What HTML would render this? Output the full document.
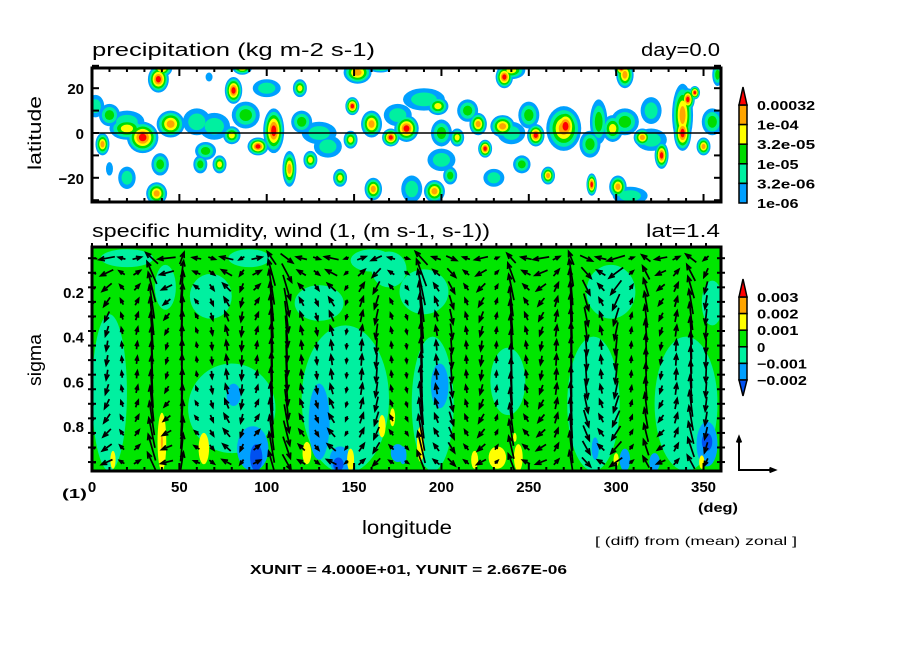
<!DOCTYPE html>
<html><head><meta charset="utf-8"><style>
html,body{margin:0;padding:0;background:#fff;}
svg{display:block;font-family:"Liberation Sans",sans-serif;}
</style></head><body>
<svg id="chart" width="904" height="654" viewBox="0 0 904 654" xmlns="http://www.w3.org/2000/svg">
<defs>
<clipPath id="clipTop"><rect x="92" y="68" width="629" height="134"/></clipPath>
<clipPath id="clipBot"><rect x="92" y="247" width="629" height="224"/></clipPath>
</defs>
<rect width="904" height="654" fill="#fff"/>
<text x="92" y="56" font-size="18" textLength="283" lengthAdjust="spacingAndGlyphs">precipitation (kg m-2 s-1)</text>
<text x="641" y="56" font-size="18" textLength="79" lengthAdjust="spacingAndGlyphs">day=0.0</text>
<text x="92" y="237" font-size="18" textLength="398" lengthAdjust="spacingAndGlyphs">specific humidity, wind (1, (m s-1, s-1))</text>
<text x="646" y="237" font-size="18" textLength="74" lengthAdjust="spacingAndGlyphs">lat=1.4</text>
<text x="0" y="0" font-size="18" text-anchor="middle" textLength="74" lengthAdjust="spacingAndGlyphs" transform="translate(41,133) rotate(-90)">latitude</text>
<text x="0" y="0" font-size="18" text-anchor="middle" textLength="52" lengthAdjust="spacingAndGlyphs" transform="translate(41,360) rotate(-90)">sigma</text>
<text x="362" y="534" font-size="19" textLength="90" lengthAdjust="spacingAndGlyphs">longitude</text>
<text x="62" y="498" font-size="13" font-weight="bold" textLength="25" lengthAdjust="spacingAndGlyphs">(1)</text>
<text x="698" y="512" font-size="13" font-weight="bold" textLength="40" lengthAdjust="spacingAndGlyphs">(deg)</text>
<text x="595" y="545" font-size="12" textLength="202" lengthAdjust="spacingAndGlyphs">[ (diff) from (mean) zonal ]</text>
<text x="250" y="574" font-size="13" font-weight="bold" textLength="317" lengthAdjust="spacingAndGlyphs">XUNIT = 4.000E+01, YUNIT = 2.667E-06</text>
<g id="topField" clip-path="url(#clipTop)"></g>
<g id="botField" clip-path="url(#clipBot)"></g>
<g id="arrows" clip-path="url(#clipBot)"></g>
<g id="axes"></g>
</svg>
<script>
// ---- precipitation blobs: lon, lat, peak level, radius lon (deg), radius lat (deg)
const precipLon  = [38,40,81,86,119,29,45,20,6,104,95,80,88,113,125,149,160,148,171,180,152,165,142,161,37,73,62,39,10,2,67,20,70,130,236,240,198,190,221,235,225,209,254,271,270,290,298,315,326,338,341,345,338,350,303,305,358,261,286,301,196,205,246,308,183,240,320,10,60,65,120,135,175,200,215,250,285,305,320,355,20,100,200,230];
const precipLat  = [24,29,19,30,20,-2,4,2,-5,1,-6,-1,8,-16,-12,12,4,-3,-2,2,27,30,-20,-25,-27,-14,-14,-14,-16,12,25,5,3,0,25,28,12,15,4,3,-7,-2,-1,3,2,5,2,-2,-10,0,15,18,8,-6,29,26,26,-19,-23,-24,-26,-19,-14,-28,-25,0,-3,8,5,-8,5,-6,8,0,10,8,-5,5,10,5,-20,20,-12,-20];
const precipPeak = [6,5,6,6,4,6,5,4,5,6,6,4,3,5,4,6,5,4,6,6,5,4,4,5,5,4,3,3,1,2,1,2,2,2,6,4,4,2,5,5,6,4,6,6,5,3,4,5,6,6,6,6,5,5,6,5,3,5,6,5,5,3,3,2,2,2,2,3,2,3,3,2,2,3,3,3,3,3,2,3,2,2,2,2];
const precipRx   = [6,6,5,6,4,9,8,10,4,6,6,5,8,4,4,4,6,4,5,7,8,8,4,5,6,4,4,5,2,5,2,10,9,10,5,8,6,12,5,7,4,4,5,7,10,5,6,5,4,5,4,3,6,4,4,5,3,4,3,5,6,4,5,10,6,8,9,6,8,6,6,8,8,6,6,6,6,8,6,6,5,8,8,6];
const precipRy   = [6,4,6,4,4,7,6,5,5,10,4,4,6,8,4,4,6,4,4,6,5,3,4,5,5,4,4,5,3,5,2,5,6,5,5,4,4,5,5,5,4,4,5,8,10,10,6,4,6,8,5,3,14,4,4,6,5,4,5,5,5,4,4,4,6,5,5,5,6,4,5,5,5,6,5,6,6,6,6,6,5,4,5,4];
const precipColors = ["#00a0ff","#00f0a0","#00dc00","#ffff00","#ffa500","#ff0000"];
const precipTicks = ["1e-06","3.2e-06","1e-05","3.2e-05","1e-04","0.00032"];

// ---- specific humidity anomaly blobs: lon, sigma, class, rx (deg), ry (sigma)
const qLon   = [10,42,68,80,145,130,20,90,160,170,195,238,287,340,190,297,355,81,92,130,142,175,199,352,305,288,178,322,94,141,352,40,64,12,123,148,166,172,188,219,232,244,300,349,242,40];
const qSig   = [0.65,0.18,0.22,0.72,0.68,0.25,0.05,0.05,0.06,0.1,0.7,0.6,0.7,0.7,0.2,0.2,0.25,0.66,0.9,0.78,0.95,0.92,0.62,0.88,0.95,0.9,0.93,0.96,0.94,0.97,0.87,0.87,0.9,0.95,0.92,0.95,0.8,0.76,0.88,0.95,0.94,0.94,0.95,0.96,0.85,0.87];
const qClass = ["a","a","a","a","a","a","a","a","a","a","a","a","a","a","a","a","a","lb","lb","lb","lb","lb","lb","lb","lb","lb","lb","lb","db","db","db","y","y","y","y","y","y","y","y","y","y","y","y","y","y","o"];
const qRx    = [10,6,12,25,25,14,15,12,12,10,12,10,15,18,14,14,6,4,9,6,6,4,5,6,3,2,2,3,3.5,3,3,2.5,3,1.5,2.5,2,2,1.5,2,2,5,2.5,1.5,1.5,1,0.6];
const qRy    = [0.35,0.1,0.1,0.2,0.33,0.08,0.04,0.04,0.05,0.08,0.3,0.15,0.3,0.3,0.1,0.12,0.1,0.05,0.1,0.17,0.06,0.04,0.1,0.1,0.05,0.05,0.04,0.04,0.06,0.03,0.04,0.13,0.07,0.04,0.05,0.05,0.05,0.04,0.08,0.04,0.05,0.06,0.03,0.03,0.02,0.03];
const qColors = {a:"#00f0a0", lb:"#00a0ff", db:"#0050f0", y:"#ffff00", o:"#ffa500"};
const qTicks = ["0.003","0.002","0.001","0","\u22120.001","\u22120.002"];

// ---- wind: per-column vertical wind (1e-6 s-1) and zonal wind (m/s), with vertical profiles
const windColW = [0.3,-0.8,0.5,0.6,3.0,-0.5,3.2,0.4,-0.6,0.8,-0.8,0.6,3.5,-2.5,0.7,-0.6,0.8,-0.4,0.9,-1.2,0.5,-0.4,3.6,0.8,-1.2,0.6,-0.8,0.5,2.6,0.6,-0.7,0.9,3.6,-1.5,0.7,-1.4,0.5,1.8,-0.6,0.9,2.2,-1.2];
const windColU = [-12,-18,-8,10,-14,-20,5,-10,8,-15,-6,12,-10,14,-12,8,-16,-5,10,-12,-8,6,-14,-10,12,-8,-15,5,-10,-12,-18,8,-6,14,-12,-20,6,-10,-14,8,-12,-6];
const windProfW = [0.3,0.6,0.8,0.9,1,1,1,1,1,1,0.95,0.9,0.8,0.7,0.5];
const windProfU = [1,0.8,0.6,0.4,0.3,0.2,0.1,0.1,0.1,0.2,0.3,0.4,0.5,0.6,0.7];
const windSigma = [0.05,0.115,0.18,0.245,0.31,0.375,0.44,0.505,0.57,0.635,0.70,0.765,0.83,0.895,0.96];

const xTickVals = [0,50,100,150,200,250,300,350];
const latTickVals = [20,0,-20];
const sigTickVals = [0.2,0.4,0.6,0.8];

const NS="http://www.w3.org/2000/svg";
function X(lon){return 92+lon*629/360;}
function YLat(lat){return 133-lat*2.24;}
function YSig(s){return 247+s*224;}
function mk(tag,attrs,parent){const e=document.createElementNS(NS,tag);for(const k in attrs)e.setAttribute(k,attrs[k]);parent.appendChild(e);return e;}

// top field
const topG=document.getElementById('topField');
for(let k=1;k<=6;k++){
  for(let i=0;i<precipLon.length;i++){
    const p=precipPeak[i]; if(p<k)continue;
    const r=1-(k-1)/(p+0.6);
    const e=mk('ellipse',{cx:X(precipLon[i]),cy:YLat(precipLat[i]),rx:precipRx[i]*1.747*r,ry:precipRy[i]*2.24*r,fill:precipColors[k-1]},topG);
    
    
  }
}
// bottom field
const botG=document.getElementById('botField');
const bg=mk('rect',{x:92,y:247,width:629,height:224,fill:"#00e600"},botG);


["a","lb","db","y","o"].forEach(c=>{
  for(let i=0;i<qLon.length;i++){ if(qClass[i]!==c)continue;
    const e=mk('ellipse',{cx:X(qLon[i]),cy:YSig(qSig[i]),rx:qRx[i]*1.747,ry:qRy[i]*224,fill:qColors[c]},botG);
    
    
  }
});
// arrows
const ag=document.getElementById('arrows');
function arrow(x0,y0,dx,dy,parent,name,sw){
  const g=mk('g',{stroke:"#000","stroke-width":sw||1.7,fill:"none"},parent);
  
  
  const x1=x0+dx,y1=y0+dy,L=Math.hypot(dx,dy);
  mk('line',{x1:x0,y1:y0,x2:x1,y2:y1},g);
  if(L>1){const ux=dx/L,uy=dy/L,h=Math.min(5.5,L*0.4+1.5);
    mk('polyline',{points:`${x1-h*ux-h*0.4*uy},${y1-h*uy+h*0.4*ux} ${x1},${y1} ${x1-h*ux+h*0.4*uy},${y1-h*uy-h*0.4*ux}`},g);}
  return g;
}
for(let i=0;i<windColW.length;i++){
  const lon=i*360/42;
  for(let j=0;j<windSigma.length;j++){
    const u=windColU[i]*windProfU[j]*0.875;
    const w=windColW[i]*windProfW[j]*12.4;
    arrow(X(lon)-u/2,YSig(windSigma[j])+w/2,u,-w,ag,'wind-arrow');
  }
}
// axes
const ax=document.getElementById('axes');
function frame(y0,h,name){const r=mk('rect',{x:92,y:y0,width:629,height:h,fill:"none",stroke:"#000","stroke-width":3},ax);}
frame(68,134,'top-frame');frame(247,224,'bottom-frame');
const eq=mk('line',{x1:92,x2:721,y1:133,y2:133,stroke:"#000","stroke-width":1.5},ax);


for(let lon=0;lon<=360;lon+=10){
  const big=lon%50===0;
  mk('line',{x1:X(lon),x2:X(lon),y1:202,y2:202-(big?8:4),stroke:"#000","stroke-width":2},ax);
  mk('line',{x1:X(lon),x2:X(lon),y1:68,y2:68+(big?8:4),stroke:"#000","stroke-width":2},ax);
  mk('line',{x1:X(lon),x2:X(lon),y1:471,y2:471-(big?8:4),stroke:"#000","stroke-width":2},ax);
}
for(let i=0;i<42;i++){mk('line',{x1:X(i*360/42),x2:X(i*360/42),y1:247,y2:243,stroke:"#000","stroke-width":2},ax);}
for(let j=0;j<windSigma.length;j++){const y=YSig(windSigma[j]);
  mk('line',{x1:88,x2:96,y1:y,y2:y,stroke:"#000","stroke-width":2},ax);
  mk('line',{x1:717,x2:725,y1:y,y2:y,stroke:"#000","stroke-width":2},ax);}
for(let lat=-30;lat<=30;lat+=10){const y=YLat(lat);
  mk('line',{x1:92,x2:99,y1:y,y2:y,stroke:"#000","stroke-width":2},ax);
  mk('line',{x1:721,x2:714,y1:y,y2:y,stroke:"#000","stroke-width":2},ax);}
xTickVals.forEach(v=>{const t=mk('text',{x:X(v),y:492,"font-size":15,"font-weight":"bold","text-anchor":"middle"},ax);t.textContent=v;
  });
latTickVals.forEach(v=>{const t=mk('text',{x:84,y:YLat(v)+6,"font-size":15,"font-weight":"bold","text-anchor":"end"},ax);t.textContent=v===0?"0":(v<0?"\u2212"+(-v):v);
  });
sigTickVals.forEach(v=>{const t=mk('text',{x:84,y:YSig(v)+6,"font-size":15,"font-weight":"bold","text-anchor":"end"},ax);t.textContent=v.toFixed(1);
  });
// colorbars
function colorbar(y0,seg,n,colors,topTri,botTri,labels,name){
  const g=mk('g',{},ax);
  for(let i=0;i<n;i++) mk('rect',{x:739,y:y0+i*seg,width:8,height:seg,fill:colors[i],stroke:"#000","stroke-width":1.5},g);
  mk('polygon',{points:`739,${y0} 747,${y0} 743,${y0-18}`,fill:topTri,stroke:"#000","stroke-width":1.5},g);
  if(botTri) mk('polygon',{points:`739,${y0+n*seg} 747,${y0+n*seg} 743,${y0+n*seg+16}`,fill:botTri,stroke:"#000","stroke-width":1.5},g);
  labels.forEach((s,i)=>{const t=mk('text',{x:757,y:y0+i*seg+5,"font-size":13,"font-weight":"bold",textLength:s.length*8.3,lengthAdjust:"spacingAndGlyphs"},g);t.textContent=s;});
}
colorbar(105,19.6,5,["#ffa500","#ffff00","#00dc00","#00f0a0","#00a0ff"],"#ff0000",null,precipTicks.slice().reverse(),'precip-colorbar');
colorbar(297,16.6,5,["#ffa500","#ffff00","#00e600","#00f0a0","#00a0ff"],"#ff0000","#0050f0",qTicks,'humidity-colorbar');
// reference arrows
arrow(739,470,0,-33,ax,'reference-arrow-vertical',2);
arrow(738,470,37,0,ax,'reference-arrow-horizontal',2);
</script>
</body></html>
